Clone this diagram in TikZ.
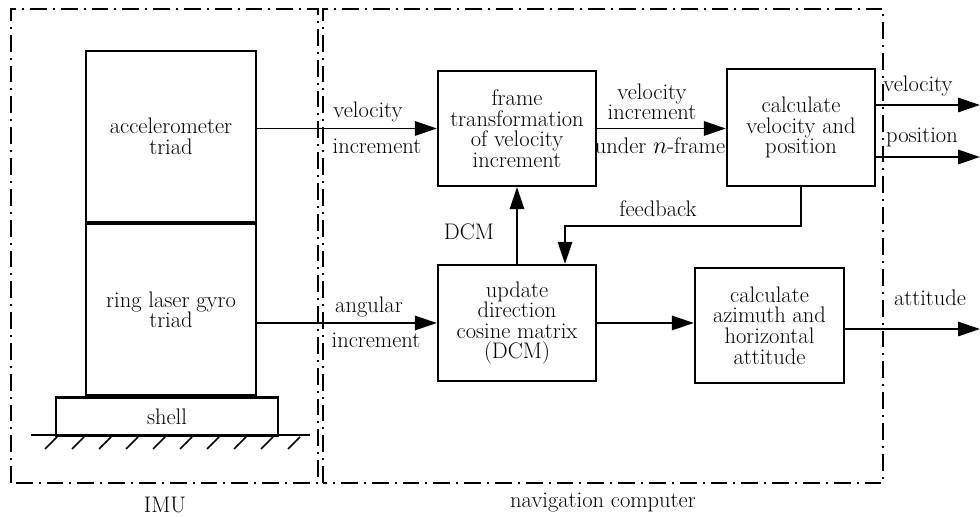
\documentclass[tikz,border=0pt]{standalone}
\usepackage{tikz}
\usetikzlibrary{arrows.meta, positioning, calc}

\begin{document}
\begin{tikzpicture}[
    x=0.025cm, y=0.025cm,
    block/.style={
        rectangle, draw=black, line width=1.6pt,
        align=center, inner sep=2pt,
        font=\fontsize{16}{14.6}\selectfont
    },
    label/.style={
        align=center, inner sep=1pt,
        font=\fontsize{16}{14.6}\selectfont
    },
    arrow/.style={
        -{Triangle[length=0.55cm, width=0.36cm]}, line width=1.4pt
    },
    unitframe/.style={
        draw=black, line width=1.1pt,
        dash pattern=on 0.42cm off 0.15cm on 0.05cm off 0.15cm
    }
]
\useasboundingbox (0,0) rectangle (980,517);

% Frames
\draw[unitframe] (11,34) rectangle (318,508);
\draw[unitframe] (323,34) rectangle (883,508);
\node[label] (imu) at (165,12) {IMU};
\node[label] (navcomp) at (603,14) {navigation computer};

% IMU
\node[block, minimum width=4.25cm, minimum height=4.275cm] (acc) at (171,380.5) {accelerometer\\triad};
\node[block, minimum width=4.25cm, minimum height=4.275cm, below=0pt of acc] (gyro) {ring laser gyro\\triad};
\node[block, minimum width=5.55cm, minimum height=0.95cm, below=0pt of gyro, xshift=-0.1cm] (shell) {shell};
\draw[line width=1.4pt] (31,82) -- (310,82);
\foreach \i in {0,...,9}
    \draw[line width=1.1pt] (57+27*\i,80) -- ++(-12,-12);

% Main components
\node[block, minimum width=3.95cm, minimum height=2.875cm] (frame) at (517,388.5) {frame\\transformation\\of velocity\\increment};
\node[block, minimum width=3.95cm, minimum height=2.9cm] (update) at (517,194) {update\\direction\\cosine matrix\\(DCM)};
\node[block, minimum width=3.7cm, minimum height=2.925cm] (calcvel) at (801,389.5) {calculate\\velocity and\\position};
\node[block, minimum width=3.725cm, minimum height=2.875cm] (azim) at (769.5,191.5) {calculate\\azimuth and\\horizontal\\attitude};

% Output ends
\coordinate (velout) at (980,412);
\coordinate (posout) at (980,360);
\coordinate (attout) at (980,188);
\coordinate (fb) at (565,291);

% Arrows
\draw[arrow] (frame.west -| acc.east) -- (frame.west);
\draw[arrow] (update.west -| gyro.east) -- (update.west);
\draw[arrow] (frame.east) -- (frame.east -| calcvel.west);
\draw[arrow] (update) -- (frame);
\draw[arrow] (calcvel.south) |- (fb) -- (fb |- update.north);
\draw[arrow] (update.east) -- (update.east -| azim.west);
\draw[arrow] (calcvel.east |- velout) -- (velout);
\draw[arrow] (calcvel.east |- posout) -- (posout);
\draw[arrow] (azim.east |- attout) -- (attout);

% Labels
\node[label] (lvel) at (368,405) {velocity};
\node[label] (linc) at (377,371) {increment};
\node[label] (lang) at (369,210) {angular};
\node[label] (linc2) at (376,177) {increment};
\node[label] (lvelinc) at (652,415) {velocity\\increment};
\node[label] (lnframe) at (660,371) {under $n$-frame};
\node[label] (ldcm) at (469,285) {DCM};
\node[label] (lfeed) at (658,308) {feedback};
\node[label] (lvelout) at (918,431) {velocity};
\node[label] (lposout) at (922,380) {position};
\node[label] (lattout) at (930,219) {attitude};

\end{tikzpicture}
\end{document}
